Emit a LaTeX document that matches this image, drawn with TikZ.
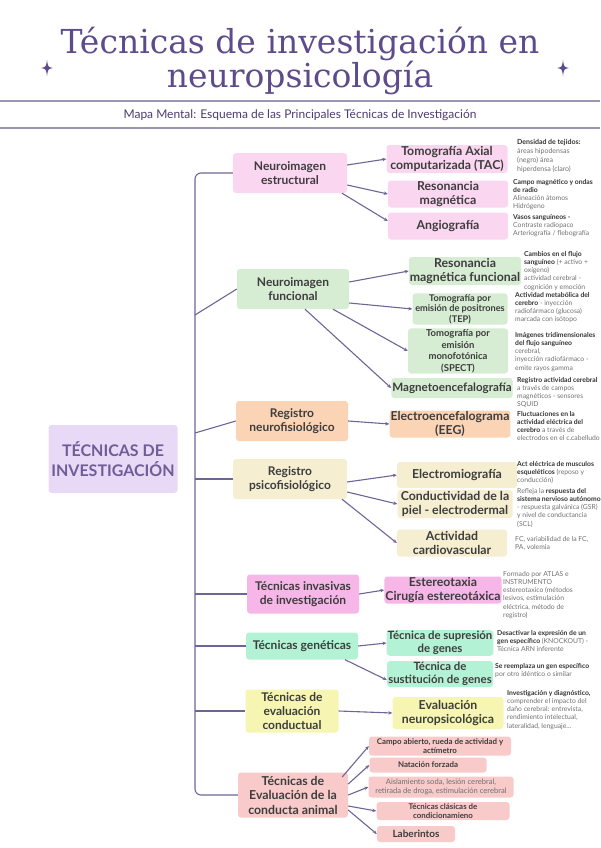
\documentclass[tikz,border=0pt]{standalone}
\usepackage{fontspec}
\setmainfont{Lato}
\newfontfamily\titlefont{DejaVu Serif}
\usetikzlibrary{arrows.meta}

\definecolor{titlecol}{HTML}{5E4B8B}
\definecolor{rulecol}{HTML}{9C95B4}
\definecolor{linecol}{HTML}{6F6496}
\definecolor{txtdark}{HTML}{3D3D3D}
\definecolor{notegray}{HTML}{707070}
\definecolor{notedark}{HTML}{333333}
\definecolor{rootfill}{HTML}{E8DAF6}
\definecolor{pinkfill}{HTML}{FAD6F0}
\definecolor{greenfill}{HTML}{D6ECD3}
\definecolor{peachfill}{HTML}{FBD3B5}
\definecolor{creamfill}{HTML}{F5EED1}
\definecolor{magfill}{HTML}{F6B6E8}
\definecolor{mintfill}{HTML}{B4F2D6}
\definecolor{yellowfill}{HTML}{F6F6B2}
\definecolor{salmonfill}{HTML}{F9CACA}

\newcommand{\notebf}[1]{\textcolor{notedark}{\textbf{#1}}}

\begin{document}
\begin{tikzpicture}
  [x=1pt, y=-1pt,
   lvone/.style={
     rectangle, rounded corners=3pt,
     align=center, inner sep=1pt, text=txtdark,
     font=\bfseries\fontsize{12}{14}\selectfont
   },
   lvtwo/.style={
     rectangle, rounded corners=3pt,
     align=center, inner sep=1pt, text=txtdark,
     font=\bfseries\fontsize{12.3}{13.5}\selectfont
   },
   lvsmall/.style={
     lvtwo, font=\bfseries\fontsize{9.2}{10.5}\selectfont
   },
   lvtiny/.style={
     lvtwo, font=\bfseries\fontsize{7.9}{9}\selectfont
   },
   note/.style={
     anchor=north west, align=left, inner sep=0pt,
     text=notegray, font=\fontsize{6.8}{8.2}\selectfont
   },
   con/.style={draw=linecol, line width=1.1pt},
   arr/.style={con, -{Stealth[length=4pt,width=3.5pt]}},
  ]
  \useasboundingbox (0,0) rectangle (600,848);

  % header
  \node [font=\titlefont\fontsize{33}{28}\selectfont, text=titlecol, align=center]
    (title) at (300,61) {Técnicas de investigación en\\neuropsicología};
  \foreach \sx in {47,563}
    \fill [titlecol] (\sx,60) .. controls (\sx+1,67) .. (\sx+6,68)
      .. controls (\sx+1,69) .. (\sx,76) .. controls (\sx-1,69) .. (\sx-6,68)
      .. controls (\sx-1,67) .. (\sx,60);
  \draw [rulecol, line width=1.2pt] (0,101) -- (600,101);
  \node [text=titlecol!80!black, font=\fontsize{12}{14}\selectfont] (subtitle) at (300,115)
    {Mapa Mental: Esquema de las Principales Técnicas de Investigación};
  \draw [rulecol, line width=2pt] (0,128) -- (600,128);

  % root
  \node [lvone, fill=rootfill, text=titlecol!90, minimum width=129pt, minimum height=68pt,
         font=\bfseries\fontsize{16}{20}\selectfont]
    (root) at (113,459) {TÉCNICAS DE\\INVESTIGACIÓN};

  % first level
  \node [lvone, fill=pinkfill, minimum width=114pt, minimum height=40pt] (estr) at (290,173) {Neuroimagen\\estructural};
  \node [lvone, fill=greenfill, minimum width=112pt, minimum height=40pt] (func) at (293,289) {Neuroimagen\\funcional};
  \node [lvone, fill=peachfill, minimum width=112pt, minimum height=40pt] (nfis) at (292,421) {Registro\\neurofisiológico};
  \node [lvone, fill=creamfill, minimum width=114pt, minimum height=40pt] (psico) at (290,479) {Registro\\psicofisiológico};
  \node [lvone, fill=magfill, minimum width=112pt, minimum height=39pt] (inv) at (303,594) {Técnicas invasivas\\de investigación};
  \node [lvone, fill=mintfill, minimum width=112pt, minimum height=27pt] (gen) at (302,646) {Técnicas genéticas};
  \node [lvone, fill=yellowfill, minimum width=93pt, minimum height=43pt] (cond) at (292,711) {Técnicas de\\evaluación\\conductual};
  \node [lvone, fill=salmonfill, minimum width=110pt, minimum height=45pt,
         font=\bfseries\fontsize{12.3}{14.5}\selectfont] (anim) at (293,795) {Técnicas de\\Evaluación de la\\conducta animal};

  % trunk
  \coordinate (tr) at (195,0);
  \draw [con, rounded corners=6pt] (estr.west) -- (estr.west -| tr) -- (anim.west -| tr) -- (anim.west);
  \coordinate (tfunc) at (195,315);
  \coordinate (tnfis) at (195,433);
  \draw [con] (tfunc) -- (func.west);
  \draw [con] (tnfis) -- (nfis.west);
  \draw [con] (psico.west -| tr) -- (psico.west);
  \draw [con] (inv.west -| tr) -- (inv.west);
  \draw [con] (gen.west -| tr) -- (gen.west);
  \draw [con] (cond.west -| tr) -- (cond.west);

  % second level: neuroimagen estructural
  \node [lvtwo, fill=pinkfill, minimum width=121pt, minimum height=28pt] (tac) at (447,159) {Tomografía Axial\\computarizada (TAC)};
  \node [lvtwo, fill=pinkfill, minimum width=120pt, minimum height=27pt] (resm) at (448,194) {Resonancia\\magnética};
  \node [lvtwo, fill=pinkfill, minimum width=120pt, minimum height=27pt] (angio) at (448,226) {Angiografía};
  \draw [arr] ([yshift=8pt]estr.east) -- (tac.west);
  \draw [arr] ([yshift=-12pt]estr.east) -- (resm.west);
  \draw [arr] ([xshift=52pt]estr.south) -- ([yshift=5pt]angio.west);

  % second level: neuroimagen funcional
  \node [lvtwo, fill=greenfill, minimum width=110pt, minimum height=28pt] (rmf) at (465,271) {Resonancia\\magnética funcional};
  \node [lvsmall, fill=greenfill, minimum width=95pt, minimum height=29pt] (tep) at (460,309) {Tomografía por\\emisión de positrones\\(TEP)};
  \node [lvsmall, fill=greenfill, minimum width=100pt, minimum height=44pt,
         font=\bfseries\fontsize{9.5}{11.5}\selectfont] (spect) at (458,351) {Tomografía por\\emisión\\monofotónica\\(SPECT)};
  \node [lvtwo, fill=greenfill, minimum width=119pt, minimum height=20pt,
         font=\bfseries\fontsize{11.6}{13.5}\selectfont] (mag) at (452,388) {Magnetoencefalografía};
  \draw [arr] ([yshift=7pt]func.east) -- (rmf.west);
  \draw [arr] ([yshift=-14pt]func.east) -- (tep.west);
  \draw [arr] ([xshift=40pt]func.south) -- (spect.west);
  \draw [arr] ([xshift=12pt]func.south) -- (mag.west);

  % second level: registros
  \node [lvtwo, fill=peachfill, minimum width=116pt, minimum height=27pt] (eeg) at (450,424) {Electroencefalograma\\(EEG)};
  \draw [arr] (nfis.east) -- (eeg.west);
  \node [lvtwo, fill=creamfill, minimum width=120pt, minimum height=26pt] (emg) at (457,475) {Electromiografía};
  \node [lvtwo, fill=creamfill, minimum width=115pt, minimum height=28pt] (piel) at (455,504) {Conductividad de la\\piel - electrodermal};
  \node [lvtwo, fill=creamfill, minimum width=110pt, minimum height=27pt] (card) at (452,543) {Actividad\\cardiovascular};
  \draw [arr] ([yshift=-3pt]psico.east) -- (emg.west);
  \draw [arr] ([yshift=-13pt]psico.east) -- (piel.west);
  \draw [arr] ([xshift=52pt]psico.south) -- (card.west);

  % second level: invasivas, geneticas, conductual
  \node [lvtwo, fill=magfill, minimum width=113pt, minimum height=27pt] (este) at (443,590) {Estereotaxia\\Cirugía estereotáxica};
  \draw [arr] (inv.east) -- (este.west);
  \node [lvtwo, fill=mintfill, minimum width=106pt, minimum height=25pt,
         font=\bfseries\fontsize{11.4}{13}\selectfont] (sup) at (440,643) {Técnica de supresión\\de genes};
  \node [lvtwo, fill=mintfill, minimum width=106pt, minimum height=26pt,
         font=\bfseries\fontsize{11.4}{13}\selectfont] (sus) at (440,674) {Técnica de\\sustitución de genes};
  \draw [arr] (gen.east) -- (sup.west);
  \draw [arr] ([xshift=43pt]gen.south) -- ([yshift=-6pt]sus.west);
  \node [lvtwo, fill=yellowfill, minimum width=111pt, minimum height=32pt] (evn) at (448,713) {Evaluación\\neuropsicológica};
  \draw [arr] (cond.east) -- (evn.west);

  % second level: conducta animal
  \node [lvtiny, fill=salmonfill, minimum width=142pt, minimum height=19pt] (abierto) at (440,746) {Campo abierto, rueda de actividad y\\actímetro};
  \node [lvtiny, fill=salmonfill, minimum width=117pt, minimum height=15pt] (natacion) at (428,765) {Natación forzada};
  \node [lvtiny, fill=salmonfill, minimum width=145pt, minimum height=21pt,
         font=\fontsize{7.6}{8.8}\selectfont, text=notegray] (aisla) at (441,787) {Aislamiento soda, lesión cerebral,\\retirada de droga, estimulación cerebral};
  \node [lvtiny, fill=salmonfill, minimum width=133pt, minimum height=18pt] (clasicas) at (443,811) {Técnicas clásicas de\\condicionamieno};
  \node [lvtiny, fill=salmonfill, minimum width=78pt, minimum height=16pt,
         font=\bfseries\fontsize{10}{11}\selectfont] (laber) at (416,834) {Laberintos};
  \draw [arr] ([xshift=-6pt,yshift=18pt]anim.east) -- (abierto.west);
  \draw [arr] ([yshift=11pt]anim.east) -- (natacion.west);
  \draw [arr] (anim.east) -- (aisla.west);
  \draw [arr] ([yshift=-11pt]anim.east) -- (clasicas.west);
  \draw [arr] ([yshift=-15pt]anim.east) -- (laber.west);

  % notes
  \node [note, font=\fontsize{7}{9}\selectfont] (ntac) at (517,139) {\notebf{Densidad de tejidos:}\\áreas hipodensas\\(negro) área\\hiperdensa (claro)};
  \node [note] (nresm) at (513,179) {\notebf{Campo magnético y ondas}\\\notebf{de radio}\\Alineación átomos\\Hidrógeno};
  \node [note] (nangio) at (513,214) {\notebf{Vasos sanguíneos -}\\Contraste radiopaco\\Arteriografía / flebografía};
  \node [note] (nrmf) at (524,251) {\notebf{Cambios en el flujo}\\\notebf{sanguíneo} (+ activo +\\oxígeno)\\actividad cerebral -\\cognición y emoción};
  \node [note] (ntep) at (515,292) {\notebf{Actividad metabólica del}\\\notebf{cerebro} - inyección\\radiofármaco (glucosa)\\marcada con isótopo};
  \node [note] (nspect) at (515,332) {\notebf{Imágenes tridimensionales}\\\notebf{del flujo sanguíneo}\\cerebral,\\inyección radiofármaco -\\emite rayos gamma};
  \node [note] (nmag) at (517,377) {\notebf{Registro actividad cerebral}\\a través de campos\\magnéticos - sensores\\SQUID};
  \node [note] (neeg) at (517,411) {\notebf{Fluctuaciones en la}\\\notebf{actividad eléctrica del}\\\notebf{cerebro} a través de\\electrodos en el c.cabelludo};
  \node [note] (nemg) at (517,461) {\notebf{Act eléctrica de musculos}\\\notebf{esqueléticos} (reposo y\\conducción)};
  \node [note] (npiel) at (517,488) {Refleja la \notebf{respuesta del}\\\notebf{sistema nervioso autónomo}\\- respuesta galvánica (GSR)\\y nivel de conductancia\\(SCL)};
  \node [note] (ncard) at (515,536) {FC, variabilidad de la FC,\\PA, volemia};
  \node [note] (neste) at (503,571) {Formado por ATLAS e\\INSTRUMENTO\\estereotaxico (métodos\\lesivos, estimulación\\eléctrica, método de\\registro)};
  \node [note] (nsup) at (497,630) {\notebf{Desactivar la expresión de un}\\\notebf{gen específico} (KNOCKOUT) -\\Técnica ARN inferente};
  \node [note] (nsus) at (495,663) {\notebf{Se reemplaza un gen específico}\\por otro idéntico o similar};
  \node [note] (nevn) at (507,690) {\notebf{Investigación y diagnóstico,}\\comprender el impacto del\\daño cerebral: entrevista,\\rendimiento intelectual,\\lateralidad, lenguaje...};
\end{tikzpicture}
\end{document}
